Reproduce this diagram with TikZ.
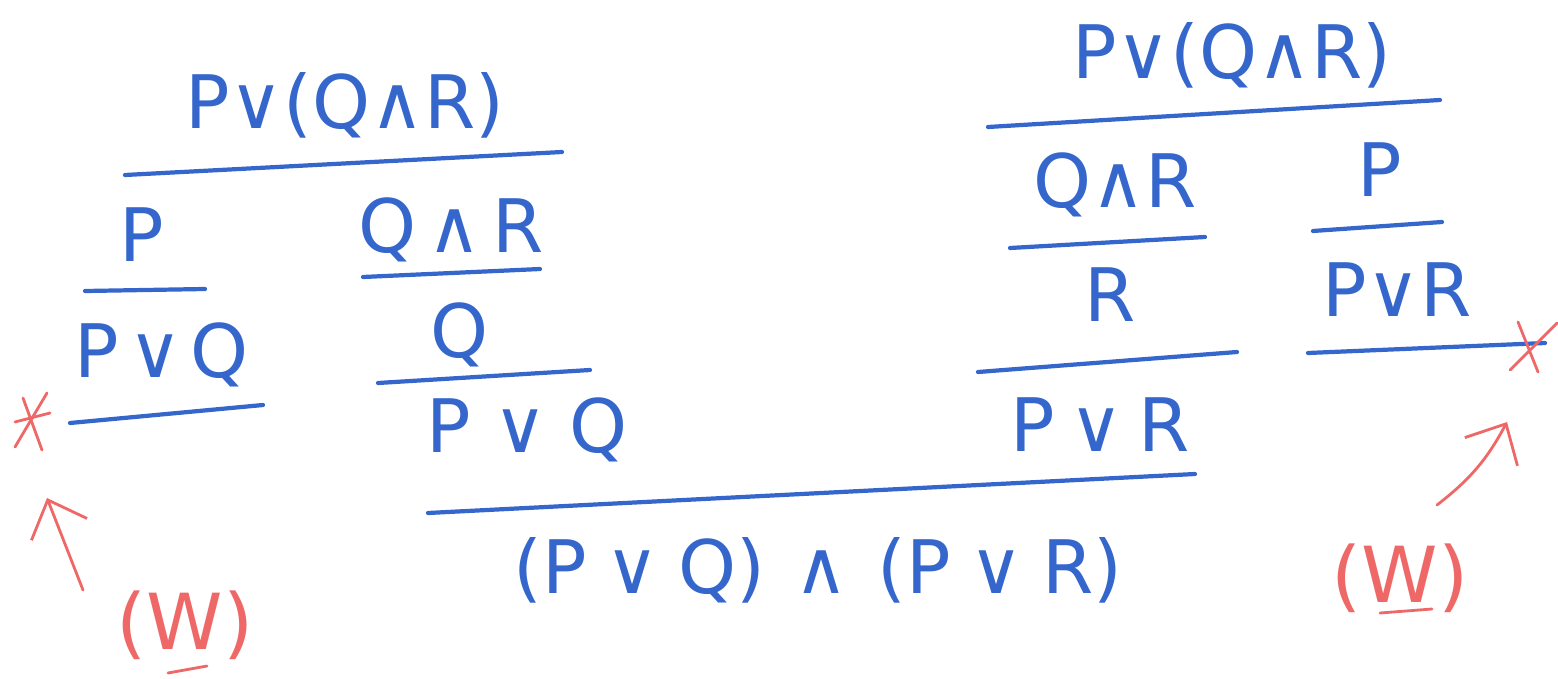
\documentclass[tikz,border=0pt]{standalone}
\usepackage{fontspec}
\setmainfont{DejaVu Sans}
\usetikzlibrary{arrows.meta}
\definecolor{ink}{RGB}{52,102,204}
\definecolor{mark}{RGB}{238,104,104}
\newcommand{\gp}[1]{\hspace{#1em}}
\tikzset{
  fml/.style={text=ink, inner sep=0pt, font=\fontsize{42}{50}\selectfont},
  bar/.style={draw=ink, line width=2.4pt, line cap=round},
  note/.style={text=mark, inner sep=0pt, font=\fontsize{44}{52}\selectfont},
  pen/.style={draw=mark, line width=1.6pt, line cap=round},
  hint/.style={pen, -{Straight Barb[length=18pt,width=34pt,line width=1.6pt]}}
}
\begin{document}
\begin{tikzpicture}[x=0.02cm, y=-0.02cm]
\useasboundingbox (0,0) rectangle (1558,679);

% ---- left derivation: case P and case Q∧R
\node[fml] (lroot) at (345,105) {P∨(Q∧R)};
\draw[bar] (125,175) -- (562,152);
\node[fml] (lp) at (142,235) {P};
\draw[bar] (85,291) -- (205,289);
\node[fml] (lpq) at (162,355) {P\gp{.12}∨\gp{.12}Q};
\draw[bar] (70,423) -- (263,405);
\node[fml] (lqr) at (451,230) {Q\gp{.15}∧\gp{.15}R};
\draw[bar] (363,277) -- (540,269);
\node[fml] (lq) at (460,335) {Q};
\draw[bar] (378,383) -- (590,370);
\node[fml] (lpq2) at (527,430) {P\gp{.3}∨\gp{.3}Q};

% ---- right derivation
\node[fml] (rroot) at (1232,55) {P∨(Q∧R)};
\draw[bar] (988,127) -- (1440,100);
\node[fml] (rqr) at (1115,185) {Q∧R};
\draw[bar] (1010,248) -- (1205,237);
\node[fml] (rp) at (1380,170) {P};
\draw[bar] (1313,231) -- (1442,222);
\node[fml] (rr) at (1110,295) {R};
\draw[bar] (978,372) -- (1237,352);
\node[fml] (rpr) at (1397,290) {P∨R};
\draw[bar] (1308,353) -- (1545,343);
\node[fml] (rpr2) at (1100,425) {P\gp{.2}∨\gp{.2}R};

% ---- conclusion
\draw[bar] (428,513) -- (1195,474);
\node[fml] (goal) at (818,570) {(P\gp{.25}∨\gp{.25}Q)\gp{.4}∧\gp{.4}(P\gp{.25}∨\gp{.25}R)};

% ---- red annotations: asterisks, arrows and (W)
\draw[pen] (47,393) -- (15,447);
\draw[pen] (23,398) -- (42,450);
\draw[pen] (15,422) -- (50,413);
\draw[pen] (1518,322) -- (1538,372);
\draw[pen] (1510,370) -- (1557,323);

\node[note] (wl) at (185,625) {(W)};
\draw[pen] (168,673) -- (207,666);
\coordinate (al) at (83,590);
\coordinate (bl) at (47,498);
\draw[hint] (al) -- (bl);

\node[note] (wr) at (1400,578) {(W)};
\draw[pen] (1380,613) -- (1432,609);
\coordinate (ar) at (1437,505);
\coordinate (br) at (1507,422);
\draw[hint] (ar) to[bend right=12] (br);
\end{tikzpicture}
\end{document}
